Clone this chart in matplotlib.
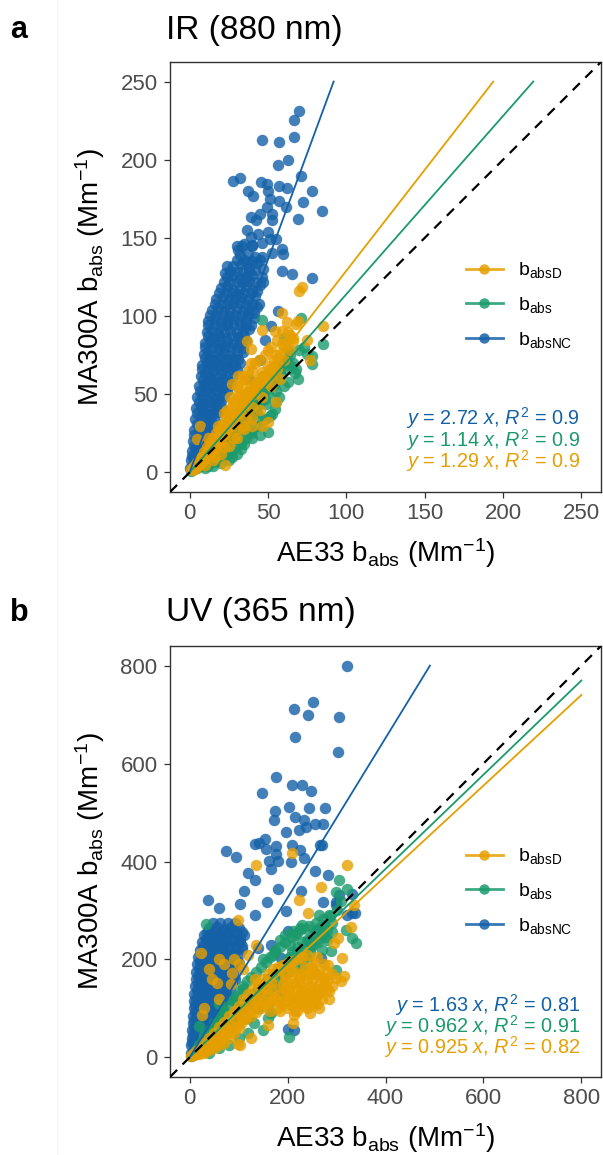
import matplotlib
matplotlib.use("Agg")
import matplotlib.pyplot as plt
from matplotlib.lines import Line2D

plt.rcParams['font.family'] = ['Liberation Sans', 'DejaVu Sans']
plt.rcParams['mathtext.fontset'] = 'custom'
plt.rcParams['mathtext.rm'] = 'Liberation Sans'
plt.rcParams['mathtext.it'] = 'Liberation Sans:italic'
plt.rcParams['mathtext.bf'] = 'Liberation Sans:bold'

# ---------------- colours / labels ----------------
C_D = '#E69F00'    # babsD
C_A = '#1B9A6C'    # babs
C_NC = '#1461A8'   # babsNC
series_labels = [r'$\mathrm{b_{absD}}$', r'$\mathrm{b_{abs}}$', r'$\mathrm{b_{absNC}}$']

# ---------------- Panel a: IR (880 nm) ----------------
ir_slopes = {'NC': 2.72, 'A': 1.14, 'D': 1.29}
ir_r2 = {'NC': '0.9', 'A': '0.9', 'D': '0.9'}
ir_ticks = [0, 50, 100, 150, 200, 250]

ir_nc_x = [0.5, 1.5, 2.5, 1, 3, 5, 1.5, 4, 6, 8, 2, 5, 8, 11, 3, 6, 9, 12, 14, 3.5, 7, 10, 13, 16,
           4, 7, 10, 14, 17, 20, 5, 8, 11, 15, 18, 22, 6, 9, 12, 16, 19, 23, 26, 7, 10, 13, 17, 20, 24, 28,
           8, 11, 14, 18, 21, 25, 29, 32, 9, 12, 15, 19, 22, 26, 30, 34, 10, 13, 17, 20, 24, 28, 32, 36,
           11, 14, 18, 22, 26, 30, 34, 38, 12, 16, 20, 24, 28, 32, 36, 41, 14, 18, 22, 26, 30, 34, 38, 43,
           17, 21, 25, 29, 33, 37, 42, 20, 24, 28, 32, 36, 40, 45, 24, 28, 32, 36, 40, 46, 28, 33, 38, 43,
           32, 37, 42,
           3, 6.5, 9.5, 5, 8.5, 11.5, 15, 6, 9.5, 13, 16.5, 20, 8.5, 11.5, 14.5, 18.5, 22, 26,
           10, 13, 16.5, 20, 24, 28, 31, 12, 15.5, 19, 23, 27, 31, 35, 13, 17, 21, 25, 29, 33, 37, 41,
           19, 23, 27, 31, 35, 39, 43, 26, 30, 34, 38, 42, 47,
           1.5, 4.5, 7.5, 2.5, 6.5, 10, 13.5, 4.5, 8.5, 12, 15.5, 18.5, 6.5, 10, 13.5, 17, 20.5, 24,
           8, 11.5, 15.5, 19.5, 23, 27, 30.5, 10, 14.5, 18.5, 22, 26, 30, 34, 12, 16, 20, 24, 28, 32, 36, 39.5,
           16, 20, 24, 28, 32, 36, 40, 44, 22, 26, 30, 34, 38, 42, 47, 30, 35, 40, 45, 30, 35, 40, 46,
           69.7, 66.5, 45.9, 57.2, 66.5, 62.7, 56.6, 71.4, 27.9, 32.1, 45.3, 49.1, 57.0, 61.9, 37.0, 40.2,
           50.2, 78.0, 51.2, 57.2, 72.5, 61.4, 84.8, 49.1, 39.1, 44.8, 52.7, 42.1, 52.9, 69.3, 36.4, 43.8,
           50.2, 39.5, 55.0, 51.2, 33.2, 31.1, 40.0, 58.7, 59.3, 52.3, 45.9, 23.6, 36.4, 22.5, 58.7, 65.5,
           77.8, 52.0, 56.5, 48, 45, 38]
ir_nc_y = [3, 4, 3, 8, 9, 7, 14, 15, 13, 12, 20, 21, 19, 18, 27, 28, 26, 25, 27, 34, 35, 33, 34, 33,
           41, 42, 40, 41, 40, 42, 48, 49, 47, 48, 47, 49, 55, 56, 54, 55, 56, 54, 56, 62, 63, 61, 62, 63, 61, 62,
           69, 70, 68, 69, 70, 68, 69, 70, 76, 77, 75, 76, 77, 75, 76, 77, 83, 84, 82, 83, 84, 82, 83, 84,
           90, 91, 89, 90, 91, 89, 90, 92, 97, 98, 96, 97, 98, 96, 97, 99, 104, 105, 103, 104, 105, 103, 104, 106,
           111, 112, 110, 111, 112, 110, 113, 118, 119, 117, 118, 119, 117, 120, 125, 126, 124, 125, 126, 125,
           132, 133, 131, 134, 139, 140, 138,
           17, 16.5, 16, 31, 30.5, 30, 31, 45, 44.5, 45, 44, 45.5, 59, 58.5, 59, 58, 59.5, 58,
           73, 72.5, 72, 73, 72, 73, 72.5, 87, 86.5, 87, 86, 87, 86.5, 87, 101, 100.5, 101, 100, 101, 100.5, 101, 102,
           115, 114.5, 115, 114, 115, 114.5, 116, 129, 128.5, 129, 128, 129.5, 130,
           10.5, 10.5, 10, 24, 24, 23.5, 24, 38, 38, 37.5, 38, 38.5, 52, 52, 51.5, 52, 52.5, 52,
           66, 66, 65.5, 66, 66.5, 66, 65.5, 80, 80, 79.5, 80, 80.5, 80, 79.5, 94, 94, 93.5, 94, 94.5, 94, 93.5, 94,
           108, 108, 107.5, 108, 108.5, 108, 107.5, 108, 122, 122, 121.5, 122, 122.5, 122, 122, 136, 136, 135.5, 136,
           145, 146, 145, 147,
           231.0, 225.7, 212.8, 211.3, 214.5, 199.7, 196.5, 189.7, 186.5, 188.0, 185.9, 184.5, 183.2, 181.9,
           180.2, 177.0, 180.2, 180.2, 174.9, 173.9, 173.2, 169.6, 167.5, 169.6, 163.3, 165.0, 165.0, 161.6,
           161.6, 162.4, 155.3, 152.3, 153.7, 150.6, 149.1, 149.5, 145.0, 142.1, 145.3, 143.2, 140.0, 140.4,
           137.9, 132.2, 134.7, 127.3, 128.8, 126.7, 124.2, 93.5, 103.0, 85, 72, 60]

ir_a_x = [1, 2, 3, 4, 5, 6, 7, 8, 9, 10, 11, 12, 13, 14, 15, 16, 17, 18, 19, 20, 21, 22, 23, 24, 25, 26,
          27, 28, 29, 30, 31, 32, 33, 34, 35, 36, 37, 38, 39, 40, 41, 42, 43, 44, 45, 46, 47, 48, 50, 52,
          54, 56, 58, 60, 62, 64, 66, 70,
          5, 8, 11, 14, 17, 20, 23, 26, 29, 32, 35, 38, 41, 44, 47, 50, 53, 57, 61, 65, 12, 18, 24, 30,
          36, 42, 48, 33, 27, 39, 45, 55, 60, 68, 73, 63,
          3, 6, 9, 12, 15, 18, 21, 24, 27, 30, 33, 36, 39, 42, 45, 48, 51, 54, 58, 62, 15, 21, 27, 33,
          39, 45, 51, 57, 63, 69, 75, 35, 43, 49,
          45.9, 71.4, 85.3, 77.8, 77.8, 67.2, 54.4, 52.3, 50.2, 44.8, 30, 25, 35, 40, 20, 15, 10, 60, 55, 48]
ir_a_y = [1, 3, 2, 5, 3, 6, 4, 9, 6, 12, 8, 14, 9, 16, 11, 19, 13, 21, 14, 24, 16, 27, 18, 30, 20, 33,
          22, 35, 25, 38, 27, 41, 29, 44, 31, 46, 34, 49, 36, 52, 39, 55, 42, 58, 45, 50, 62, 47, 55, 65,
          60, 68, 63, 72, 66, 75, 70, 78,
          5, 7, 11, 13, 17, 20, 23, 26, 31, 33, 38, 40, 45, 47, 52, 50, 58, 60, 70, 68, 4, 8, 12, 17,
          22, 30, 34, 15, 10, 27, 35, 45, 55, 66, 80, 78,
          3, 4, 9, 10, 15, 16, 20, 22, 28, 29, 35, 36, 42, 44, 48, 52, 60, 56, 66, 72, 7, 10, 14, 19,
          25, 30, 36, 48, 58, 60, 76, 25, 38, 44,
          97.7, 98.8, 81.9, 74.4, 69.2, 63.5, 40.6, 37.4, 25.8, 23.7, 12, 8, 18, 22, 6, 4, 3, 86, 52, 58]

ir_d_x = [1, 2, 3, 4, 5, 6, 7, 8, 9, 10, 11, 12, 13, 14, 15, 16, 17, 18, 19, 20, 21, 22, 23, 24, 25, 26,
          27, 28, 29, 30, 31, 32, 33, 34, 35, 36, 37, 38, 39, 40, 42, 44, 46, 48, 50, 52, 54, 56, 58, 60,
          62, 64, 66,
          5, 8, 11, 14, 17, 20, 23, 26, 29, 32, 35, 38, 41, 44, 47, 50, 53, 56, 60, 15, 20, 25, 30, 35,
          40, 45, 28, 24, 18, 12, 33, 38, 42, 48, 52, 63, 10, 30, 36,
          3, 6, 9, 12, 15, 18, 21, 24, 27, 30, 33, 36, 39, 43, 47, 51, 55, 59, 64, 68, 22, 26, 30, 34,
          40, 44, 50, 56, 62, 16, 22, 28, 34, 40, 46, 52, 58,
          71.9, 70, 58.7, 69.3, 85.3, 54.4, 58.7, 45.9, 36.4, 39.5, 66.1, 31.1, 26.8, 6.6, 4.5, 50.2, 45.9,
          22.5, 75, 77, 55, 40]
ir_d_y = [2, 1.5, 4, 3, 7, 5, 10, 7, 13, 9, 16, 11, 19, 13, 22, 15, 25, 18, 28, 20, 31, 24, 34, 27, 38, 30,
          42, 33, 46, 36, 50, 39, 55, 42, 60, 45, 65, 48, 70, 52, 56, 60, 64, 58, 68, 62, 72, 66, 76, 80,
          84, 78, 86,
          5, 10, 12, 17, 20, 25, 28, 34, 36, 42, 44, 52, 50, 56, 58, 62, 66, 70, 72, 8, 12, 17, 22, 28,
          30, 40, 45, 40, 30, 22, 50, 60, 70, 75, 80, 90, 5, 28, 35,
          3, 8, 8, 15, 17, 22, 24, 32, 35, 40, 45, 50, 55, 58, 62, 66, 75, 82, 88, 95, 38, 48, 55, 62,
          65, 72, 78, 85, 96, 10, 16, 22, 30, 42, 48, 55, 60,
          118.8, 116, 102, 96.6, 93.5, 90.3, 90.3, 91.4, 84, 78.7, 84, 61.7, 56.5, 30, 21.6, 32.2, 30,
          4.6, 85, 72, 45, 35]

# ---------------- Panel b: UV (365 nm) ----------------
uv_slopes = {'NC': 1.63, 'A': 0.962, 'D': 0.925}
uv_r2 = {'NC': '0.81', 'A': '0.91', 'D': '0.82'}
uv_ticks = [0, 200, 400, 600, 800]

uv_nc_x = [2, 6, 3, 10, 17, 4, 12, 20, 28, 5, 13, 22, 30, 38, 6, 15, 24, 33, 42, 7, 16, 26, 35, 45, 55,
           8, 18, 28, 38, 48, 58, 9, 19, 29, 40, 50, 60, 70, 10, 20, 31, 42, 53, 64, 75,
           11, 22, 33, 44, 55, 66, 78, 13, 24, 35, 46, 57, 68, 80, 92, 14, 25, 37, 48, 60, 72, 84,
           16, 27, 39, 51, 63, 75, 88, 100, 18, 30, 42, 54, 66, 78, 90, 21, 33, 45, 57, 69, 81, 95, 108,
           25, 37, 49, 61, 73, 86, 100, 30, 42, 55, 68, 80, 95, 112, 40, 55, 70, 85, 100,
           5, 14, 23, 6, 16, 25, 34, 8, 18, 28, 37, 46, 10, 20, 30, 39, 49, 11, 21, 32, 42, 52, 62,
           12, 23, 33, 44, 54, 64, 14, 24, 35, 46, 56, 66, 77, 15, 26, 37, 48, 60, 71, 82,
           17, 28, 40, 51, 62, 74, 86, 18, 30, 42, 53, 65, 78, 90, 20, 32, 44, 56, 69, 81, 94,
           22, 34, 47, 60, 72, 84, 97, 25, 37, 50, 63, 75, 88, 101, 28, 41, 54, 67, 80, 93, 106,
           33, 46, 60, 73, 87, 102, 36, 50, 64, 78, 92, 106, 48, 62, 78, 93,
           322, 251, 214, 241, 306, 216, 302, 177, 208.5, 229, 248, 147.6, 174, 173, 203, 243, 277, 216,
           233, 256.5, 271.5, 224, 237.6, 197.6, 153, 132.6, 142.7, 155, 176.6, 208.5, 269.4, 73.7, 95.4,
           225, 176.6, 234, 161.8, 180, 207, 118.6, 165.5, 181, 134, 111, 103, 36.6, 60, 157.8, 134, 197,
           228, 255.4, 282.8, 267, 322, 337.6, 298.5, 306, 200.8, 212.4,
           271.4, 298.5, 332, 332, 261, 244, 268, 200, 187, 166.5, 187, 139.5, 102]
uv_nc_y = [10, 9, 25, 24, 22, 40, 42, 38, 40, 55, 57, 53, 56, 54, 70, 72, 68, 71, 69, 85, 87, 83, 86, 84, 86,
           100, 102, 98, 101, 99, 102, 115, 117, 113, 116, 114, 117, 115, 130, 132, 128, 131, 129, 132, 130,
           145, 147, 143, 146, 144, 147, 145, 160, 162, 158, 161, 159, 162, 160, 161, 175, 177, 173, 176, 174, 177, 175,
           190, 192, 188, 191, 189, 192, 190, 193, 205, 207, 203, 206, 204, 207, 205, 220, 222, 218, 221, 219, 222, 220, 222,
           235, 237, 233, 236, 234, 237, 235, 250, 252, 248, 251, 249, 252, 250, 265, 267, 263, 266, 264,
           32, 32, 32, 47, 47, 47, 47, 62, 62, 62, 62, 62, 77, 77, 77, 77, 77, 92, 92, 92, 92, 92, 92,
           107, 107, 107, 107, 107, 107, 122, 122, 122, 122, 122, 122, 122, 137, 137, 137, 137, 137, 137, 137,
           152, 152, 152, 152, 152, 152, 152, 167, 167, 167, 167, 167, 167, 167, 182, 182, 182, 182, 182, 182, 182,
           197, 197, 197, 197, 197, 197, 197, 212, 212, 212, 212, 212, 212, 212, 227, 227, 227, 227, 227, 227, 227,
           242, 242, 242, 242, 242, 242, 257, 257, 257, 257, 257, 257, 275, 275, 275, 275,
           800, 725, 712, 699, 695, 655, 624, 573, 556.6, 556.6, 544, 539, 504, 485, 510.6, 508.6, 508.6, 490,
           485.5, 476.7, 476.7, 464.6, 471, 461, 446, 436, 437.6, 426, 430.7, 432.7, 434, 420.5, 410,
           422.5, 415.8, 407, 402, 402, 399, 377, 384.5, 343, 362, 339.7, 313.5, 322, 306, 317, 291, 298.6,
           339.7, 380.7, 373, 433, 291, 294.8, 317, 332.6, 257.5, 56.4,
           317.7, 311, 294, 334.6, 260, 240, 202.6, 57, 135, 229.6, 202.6, 223, 236.5]

uv_a_x = [3, 6, 8, 12, 15, 18, 20, 25, 28, 30, 35, 38, 42, 45, 50, 52, 58, 60, 65, 68, 72, 75, 80, 82, 88,
          90, 95, 98, 102, 105, 110, 112, 118, 120, 125, 128, 135, 138, 145, 148, 155, 160, 165, 170, 175,
          180, 185, 190, 195, 200, 210, 215, 220, 230, 240, 245, 250, 260, 270, 280, 290,
          100, 110, 120, 130, 140, 150, 160, 170, 180, 190, 200, 210, 220, 230, 240, 255, 265, 275, 285,
          300, 310, 205, 215, 225, 195, 185, 175, 230, 240, 270, 280, 160, 140, 120, 100, 80, 60, 40, 20,
          70, 50, 30, 90, 110, 150, 170,
          205, 220, 235, 250, 262, 278, 290, 212, 228, 244, 258, 272, 286,
          305, 322, 298.5, 318.8, 332, 339, 298.5, 288, 202, 60, 20, 33, 150, 160, 100, 120, 80, 60, 40,
          140, 166, 132, 230, 265, 250]
uv_a_y = [3, 4, 10, 6, 18, 10, 25, 14, 35, 20, 45, 25, 55, 30, 65, 36, 75, 42, 85, 48, 95, 55, 105, 62, 115,
          70, 125, 78, 135, 86, 145, 95, 155, 102, 165, 110, 175, 118, 185, 126, 195, 135, 205, 145, 215,
          155, 225, 165, 235, 175, 245, 185, 255, 200, 262, 215, 230, 240, 250, 260, 275,
          100, 110, 120, 130, 140, 150, 160, 170, 180, 190, 200, 215, 225, 235, 240, 250, 265, 270, 290,
          300, 320, 230, 250, 265, 250, 240, 220, 180, 200, 220, 240, 110, 100, 80, 75, 60, 45, 30, 15,
          90, 70, 45, 120, 140, 200, 210,
          205, 215, 222, 228, 236, 246, 256, 258, 262, 268, 274, 282, 288,
          361.6, 344.8, 338, 260, 243, 233, 179, 217, 42, 110, 65, 272, 55, 80, 40, 50, 25, 20, 10,
          100, 90, 70, 270, 290, 180]

uv_d_x = [3, 6, 10, 14, 18, 22, 26, 30, 35, 40, 45, 50, 55, 60, 65, 70, 75, 80, 85, 90, 95, 100, 105, 110,
          115, 120, 125, 130, 135, 140, 145, 150, 155, 160, 165, 170, 175, 180, 185, 190, 195, 200, 205, 210,
          215, 220, 225, 230, 235, 240, 245, 250, 255, 260, 265, 270, 275, 280, 240, 230, 220, 250, 260, 210,
          200, 190, 215, 235,
          190, 200, 210, 220, 230, 240, 250, 260, 270, 280, 200, 225, 245, 265, 275, 255, 235, 215, 195,
          205, 290, 285, 260, 240, 180, 170, 160, 150, 140, 130, 120, 110, 100, 90, 80, 70, 60, 50, 40,
          30, 20,
          185, 195, 205, 215, 225, 235, 245, 255, 265, 275, 285, 195, 210, 225, 240, 250, 270, 280, 220,
          245, 265, 185, 175, 165, 155, 145, 135, 125, 115, 105, 95, 85, 75, 65, 55, 45,
          35, 25, 15, 45, 70, 85, 60, 30, 90, 110,
          322, 268, 224, 241, 329, 295, 312, 315, 298.5, 281.6, 99, 136, 208.5, 55, 24.4, 99, 214, 254, 160,
          126, 310, 290, 212, 251.6, 87, 134, 165.5, 181, 103, 197, 228, 259, 335.6, 302, 40, 60, 100, 120,
          24, 136]
uv_d_y = [2, 6, 4, 14, 8, 20, 12, 30, 18, 40, 25, 50, 32, 62, 40, 72, 48, 85, 55, 95, 62, 105, 70, 120,
          78, 130, 85, 140, 92, 150, 100, 160, 108, 170, 115, 180, 122, 185, 130, 188, 138, 192, 145, 196,
          152, 200, 160, 205, 168, 210, 176, 185, 195, 205, 150, 120, 160, 140, 130, 110, 140, 155, 170, 120,
          100, 150, 95, 105,
          110, 125, 105, 120, 125, 115, 135, 140, 135, 155, 140, 150, 145, 180, 190, 175, 185, 175, 170,
          185, 170, 120, 110, 100, 100, 120, 130, 110, 120, 100, 90, 80, 60, 50, 40, 30, 25, 20, 15,
          10, 6,
          95, 115, 130, 110, 130, 140, 125, 120, 130, 145, 135, 160, 165, 170, 160, 170, 165, 175, 95,
          90, 100, 180, 140, 95, 140, 130, 115, 105, 95, 85, 75, 65, 55, 45, 35, 30,
          22, 15, 8, 160, 190, 150, 120, 100, 200, 180,
          393.5, 348, 321, 294, 267, 233, 202.6, 165.5, 162, 189, 280, 393.5, 418, 152, 87.5, 26.6, 87.5,
          114.7, 67, 40, 157, 146, 71, 108, 172, 160.6, 153, 115.7, 26, 138, 138, 127, 311, 243, 180, 200,
          190, 210, 213, 229.6]

# ---------------- figure ----------------
W, H = 603, 1155
fig = plt.figure(figsize=(W / 100, H / 100), dpi=100)

# faint divider line of the original layout
fig.add_artist(Line2D([57 / W, 57 / W], [0, 1], color='#f3f3f3', lw=0.8))


def fx(px):
    return px / W


def fy(py):
    return 1 - py / H


def panel(box, lim, ticks, nc, a, d, slopes, r2, title, letter, title_y, leg_y, eq_y):
    left, top, right, bottom = box
    ax = fig.add_axes([fx(left), fy(bottom), fx(right) - fx(left), (bottom - top) / H])
    lo, hi = lim
    pad = 0.05 * (hi - lo)
    ax.set_xlim(lo - pad, hi + pad)
    ax.set_ylim(lo - pad, hi + pad)

    pt_kw = dict(s=68, alpha=0.8, linewidths=0, zorder=2)
    ax.scatter(nc[0], nc[1], color=C_NC, **pt_kw)
    ax.scatter(a[0], a[1], color=C_A, **pt_kw)
    ax.scatter(d[0], d[1], color=C_D, **pt_kw)

    # regression lines through origin, drawn until y reaches the upper limit
    for key, col in (('D', C_D), ('A', C_A), ('NC', C_NC)):
        k = slopes[key]
        xe = min(hi, hi / k)
        ax.plot([0, xe], [0, k * xe], color=col, lw=1.3, zorder=3)

    # 1:1 line
    ax.plot([lo - pad, hi + pad], [lo - pad, hi + pad], color='black', lw=1.6,
            ls=(0, (4.5, 3.5)), zorder=4)

    ax.set_xticks(ticks)
    ax.set_yticks(ticks)
    ax.tick_params(axis='both', colors='#333333', labelcolor='#4d4d4d', labelsize=16,
                   length=4, width=0.9, direction='out')
    ax.tick_params(axis='x', pad=4)
    ax.tick_params(axis='y', pad=5)
    for sp in ax.spines.values():
        sp.set_color('#333333')
        sp.set_linewidth(1.0)

    ax.set_xlabel(r'AE33 $\mathrm{b_{abs}}$ (Mm$^{-1}$)', fontsize=20)
    ax.set_ylabel(r'MA300A $\mathrm{b_{abs}}$ (Mm$^{-1}$)', fontsize=20)
    ax.xaxis.set_label_coords(0.5, -0.103)
    ax.yaxis.set_label_coords(-0.147, 0.5)

    fig.text(fx(166), fy(title_y), title, fontsize=24, ha='left', va='center')
    fig.text(fx(10), fy(title_y), letter, fontsize=22, fontweight='bold', ha='left', va='center')

    # legend
    handles = [Line2D([0], [0], color=c, lw=2, marker='o', ms=7.5, alpha=0.85, markeredgewidth=0)
               for c in (C_D, C_A, C_NC)]
    ax.legend(handles, series_labels, loc='center left', frameon=False, fontsize=14,
              bbox_to_anchor=((466 - left) / (right - left), 1 - (leg_y - top) / (bottom - top)),
              handlelength=1.9, handletextpad=0.8, labelspacing=0.75, borderaxespad=0,
              borderpad=0)

    # equations
    for i, (key, col) in enumerate((('NC', C_NC), ('A', C_A), ('D', C_D))):
        txt = r'$y$ = %s $x$, $R^2$ = %s' % (('%g' % slopes[key]), r2[key])
        fig.text(fx(580), fy(eq_y[i]), txt, color=col, fontsize=14.3, ha='right', va='center')
    return ax


panel((170, 62, 601, 492), (0, 250), ir_ticks,
      (ir_nc_x, ir_nc_y), (ir_a_x, ir_a_y), (ir_d_x, ir_d_y),
      ir_slopes, ir_r2, 'IR (880 nm)', 'a', 30, 305, (418, 440, 461))

panel((170, 646, 601, 1077), (0, 800), uv_ticks,
      (uv_nc_x, uv_nc_y), (uv_a_x, uv_a_y), (uv_d_x, uv_d_y),
      uv_slopes, uv_r2, 'UV (365 nm)', 'b', 613, 891, (1005, 1026, 1047))

fig.savefig('out.png', dpi=100)
